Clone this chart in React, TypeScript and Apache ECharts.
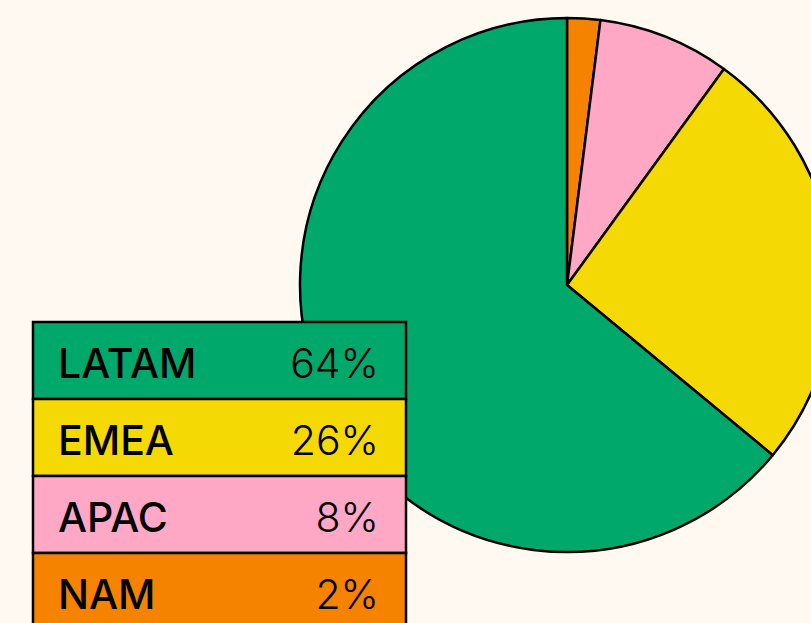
import React, { useEffect, useRef } from "react";
import * as echarts from "echarts";

const regions = ["LATAM", "EMEA", "APAC", "NAM"];
const shares = [64, 26, 8, 2];
const colors = ["#00A96B", "#F5D905", "#FFA8C6", "#F58300"];

export default function App() {
  const ref = useRef<HTMLDivElement>(null);
  useEffect(() => {
    if (!ref.current) return;
    const chart = echarts.init(ref.current, undefined, { renderer: "svg" });
    const pieData = regions
      .map((name, i) => ({ name, value: shares[i], itemStyle: { color: colors[i] } }))
      .reverse();
    const rowTop = 322;
    const rowH = 77;
    const left = 33;
    const width = 373;
    const graphics: any[] = [];
    regions.forEach((name, i) => {
      const y = rowTop + i * rowH;
      graphics.push({
        type: "rect",
        z: 100,
        shape: { x: left, y, width, height: rowH },
        style: { fill: colors[i], stroke: "#000", lineWidth: 2.5 },
      });
      graphics.push({
        type: "text",
        z: 101,
        x: 58,
        y: y + rowH / 2 + 2,
        style: {
          text: name,
          fill: "#000",
          font: '500 41px Inter',
          textAlign: "left",
          textVerticalAlign: "middle",
        },
      });
      graphics.push({
        type: "text",
        z: 101,
        x: 379,
        y: y + rowH / 2 + 2,
        style: {
          text: shares[i] + "%",
          fill: "#000",
          font: '300 41px Inter',
          textAlign: "right",
          textVerticalAlign: "middle",
        },
      });
    });
    chart.setOption({
      animation: false,
      backgroundColor: "#FFF9F2",
      series: [
        {
          type: "pie",
          center: [567, 285],
          radius: 267,
          startAngle: 90,
          clockwise: true,
          label: { show: false },
          labelLine: { show: false },
          emphasis: { disabled: true },
          itemStyle: { borderColor: "#000", borderWidth: 2.5 },
          data: pieData,
        },
      ],
      graphic: graphics,
    });
    return () => chart.dispose();
  }, []);
  return (
    <div
      ref={ref}
      style={{ position: "fixed", left: 0, top: 0, width: 811, height: 623 }}
    />
  );
}
